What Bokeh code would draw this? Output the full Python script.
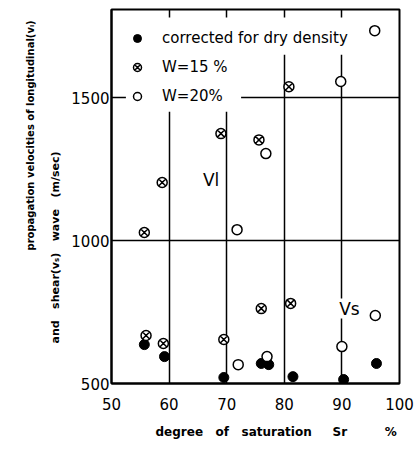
from bokeh.plotting import figure
from bokeh.models import FixedTicker, Range1d, Legend, LegendItem, Label, BoxAnnotation, Title
from bokeh.embed import file_html
from bokeh.resources import INLINE

# degree of saturation Sr (%) and velocity (m/sec)
dry_x = [55.7, 59.2, 69.5, 76.0, 77.3, 81.5, 90.3, 96.0]
dry_y = [636, 594, 521, 570, 566, 524, 514, 570]

w15_x = [55.7, 58.8, 69.0, 75.6, 80.8, 56.0, 59.0, 69.5, 76.0, 81.1]
w15_y = [1028, 1203, 1374, 1352, 1538, 668, 640, 654, 762, 780]

w20_x = [71.8, 76.8, 89.8, 95.7, 72.0, 77.0, 90.0, 95.8]
w20_y = [1038, 1304, 1556, 1734, 566, 594, 629, 738]

x_ticks = [50, 60, 70, 80, 90, 100]
y_ticks = [500, 1000, 1500]

NB = "\u00a0"
FONT = "DejaVu Sans"

p = figure(width=419, height=451, output_backend="svg", toolbar_location=None,
           x_range=Range1d(50, 100), y_range=Range1d(500, 1808),
           min_border_left=111, min_border_right=20, min_border_top=9, min_border_bottom=68)

p.outline_line_color = "black"
p.outline_line_width = 2
p.background_fill_color = "white"

# grid
p.xgrid.ticker = FixedTicker(ticks=x_ticks)
p.ygrid.ticker = FixedTicker(ticks=y_ticks)
for g in (p.xgrid, p.ygrid):
    g.grid_line_color = "black"
    g.grid_line_width = 1.5
    g.grid_line_alpha = 1.0

# axes
p.xaxis.ticker = FixedTicker(ticks=x_ticks)
p.yaxis.ticker = FixedTicker(ticks=y_ticks)
for ax in (p.xaxis[0], p.yaxis[0]):
    ax.axis_line_color = "black"
    ax.axis_line_width = 2
    ax.major_tick_in = 0
    ax.major_tick_out = 0
    ax.minor_tick_in = 0
    ax.minor_tick_out = 0
    ax.major_label_text_font = FONT
    ax.major_label_text_font_size = "15px"
    ax.major_label_text_color = "black"

p.xaxis.major_label_standoff = 14
p.yaxis.major_label_standoff = 2

# white patches reproducing the gaps of the grid lines behind the legend
p.add_layout(BoxAnnotation(left=52.5, right=72.5, bottom=1450, top=1780,
                           fill_color="white", fill_alpha=1.0, line_color=None))
p.add_layout(BoxAnnotation(left=72.5, right=92, bottom=1650, top=1780,
                           fill_color="white", fill_alpha=1.0, line_color=None))

r_dry = p.scatter(dry_x, dry_y, marker="circle", size=10, fill_color="black", line_color="black")
r_15 = p.scatter(w15_x, w15_y, marker="circle_x", size=10, fill_color="white",
                 line_color="black", line_width=1.5)
r_20 = p.scatter(w20_x, w20_y, marker="circle", size=10, fill_color="white",
                 line_color="black", line_width=1.5)

legend = Legend(items=[
    LegendItem(label="corrected for dry density", renderers=[r_dry]),
    LegendItem(label="W=15 %", renderers=[r_15]),
    LegendItem(label="W=20%", renderers=[r_20]),
], location=(16, 277), margin=0, padding=5, spacing=9, glyph_width=20, glyph_height=20,
    label_height=20, label_standoff=15, border_line_color=None,
    background_fill_alpha=0.0,
    label_text_font=FONT, label_text_font_size="15px", label_text_color="black")
p.add_layout(legend, "center")

p.add_layout(Label(x=67.3, y=1210, text="Vl", text_font=FONT, text_font_size="17px",
                   text_align="center", text_baseline="middle", text_color="black"))
p.add_layout(Label(x=91.3, y=762, text="Vs", text_font=FONT, text_font_size="17px",
                   text_align="center", text_baseline="middle", text_color="black",
                   background_fill_color="white"))

# axis titles
y1 = NB.join(["propagation", "velocities", "of", "longitudinal(vₗ)"])
y2 = (NB * 3).join(["and", "shear(vₛ)", "wave", "(m/sec)"])
xl = "degree" + NB * 3 + "of" + NB * 3 + "saturation" + NB * 5 + "Sr" + NB * 9 + "%"

common = dict(text_font=FONT, text_font_style="bold", text_color="black")
p.add_layout(Title(text=y2, align="left", offset=40, standoff=14,
                   text_font_size="11px", **common), "left")
p.add_layout(Title(text=y1, align="left", offset=133, standoff=8,
                   text_font_size="10px", **common), "left")
p.add_layout(Title(text=xl, align="left", offset=44, standoff=20,
                   text_font_size="12px", **common), "below")

open("out.html", "w").write(file_html(p, INLINE))
